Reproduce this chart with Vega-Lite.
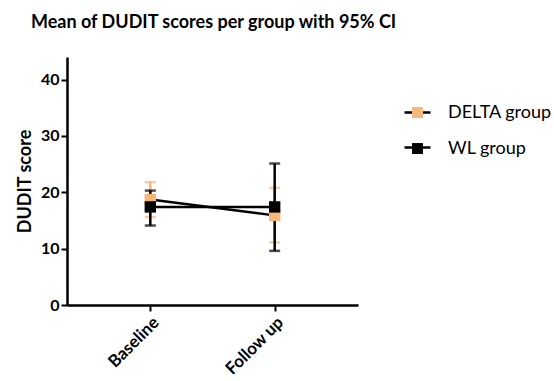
{
  "$schema": "https://vega.github.io/schema/vega-lite/v6.json",
  "autosize": "none",
  "width": 291,
  "height": 248,
  "padding": {"left": 67, "top": 57, "right": 196, "bottom": 76},
  "background": "white",
  "config": {
    "view": {"stroke": null},
    "font": "Lato",
    "axis": {"grid": false, "domainColor": "black", "domainWidth": 2.5, "tickColor": "black", "tickWidth": 2, "labelColor": "black", "labelFont": "Lato", "labelFontWeight": "bold", "titleFont": "Lato", "titleColor": "black"}
  },
  "title": {"text": "Mean of DUDIT scores per group with 95% CI", "anchor": "start", "frame": "group", "dx": -36, "offset": 25, "fontSize": 18, "font": "Lato", "fontWeight": "bold", "color": "black"},
  "data": {"values": [
    {"group": "DELTA group", "time": "Baseline", "mean": 18.7, "lo": 15.6, "hi": 21.8},
    {"group": "DELTA group", "time": "Follow up", "mean": 15.9, "lo": 11.1, "hi": 20.8},
    {"group": "WL group", "time": "Baseline", "mean": 17.4, "lo": 14.1, "hi": 20.3},
    {"group": "WL group", "time": "Follow up", "mean": 17.4, "lo": 9.6, "hi": 25.1}
  ]},
  "encoding": {
    "x": {"field": "time", "type": "nominal", "sort": ["Baseline", "Follow up"], "scale": {"type": "point", "padding": 0.67},
      "axis": {"title": null, "labelAngle": -45, "labelAlign": "right", "labelBaseline": "top", "labelFontSize": 17, "tickSize": 6, "labelPadding": 3}},
    "y": {"field": "mean", "type": "quantitative", "scale": {"domain": [0, 44], "nice": false},
      "axis": {"title": "DUDIT score", "values": [0, 10, 20, 30, 40], "labelFontSize": 16, "tickSize": 6, "labelPadding": 2, "titleFontSize": 18, "titlePadding": 6}}
  },
  "layer": [
    {
      "transform": [{"filter": "datum.group === 'DELTA group'"}],
      "layer": [
        {"mark": {"type": "rule", "strokeWidth": 2.5, "color": "#F5B77A"}, "encoding": {"y": {"field": "lo", "type": "quantitative"}, "y2": {"field": "hi"}}},
        {"mark": {"type": "tick", "orient": "horizontal", "size": 11, "thickness": 2.5, "color": "#F5B77A"}, "encoding": {"y": {"field": "lo", "type": "quantitative"}}},
        {"mark": {"type": "tick", "orient": "horizontal", "size": 11, "thickness": 2.5, "color": "#F5B77A"}, "encoding": {"y": {"field": "hi", "type": "quantitative"}}}
      ]
    },
    {
      "transform": [{"filter": "datum.group === 'WL group'"}],
      "layer": [
        {"mark": {"type": "rule", "strokeWidth": 2.5, "color": "#000000"}, "encoding": {"y": {"field": "lo", "type": "quantitative"}, "y2": {"field": "hi"}}},
        {"mark": {"type": "tick", "orient": "horizontal", "size": 11, "thickness": 2.5, "color": "#000000"}, "encoding": {"y": {"field": "lo", "type": "quantitative"}}},
        {"mark": {"type": "tick", "orient": "horizontal", "size": 11, "thickness": 2.5, "color": "#000000"}, "encoding": {"y": {"field": "hi", "type": "quantitative"}}}
      ]
    },
    {
      "mark": {"type": "line", "strokeWidth": 2.5},
      "encoding": {
        "stroke": {"field": "group", "type": "nominal", "scale": {"range": ["#000000", "#000000"]},
          "legend": {"orient": "none", "legendX": 336, "legendY": 41, "title": null, "symbolType": "M-1,0H-0.42M0.42,0H1", "symbolSize": 676, "symbolStrokeWidth": 2.5, "labelFontSize": 18, "labelExpr": "''", "labelFont": "Lato", "rowPadding": 11, "labelOffset": 16}}
      }
    },
    {
      "mark": {"type": "point", "shape": "square", "filled": true, "size": 130, "opacity": 1},
      "encoding": {
        "fill": {"field": "group", "type": "nominal", "scale": {"domain": ["DELTA group", "WL group"], "range": ["#F5B77A", "#000000"]},
          "legend": {"orient": "none", "legendX": 336, "legendY": 41, "title": null, "symbolType": "M-0.42,-0.42H0.42V0.42H-0.42Z", "symbolSize": 676, "symbolStrokeWidth": 2.5, "symbolStrokeColor": "transparent", "symbolOpacity": 1, "labelFontSize": 18, "labelColor": "black", "labelFont": "Lato", "rowPadding": 11, "labelOffset": 16}}
      }
    }
  ]
}
